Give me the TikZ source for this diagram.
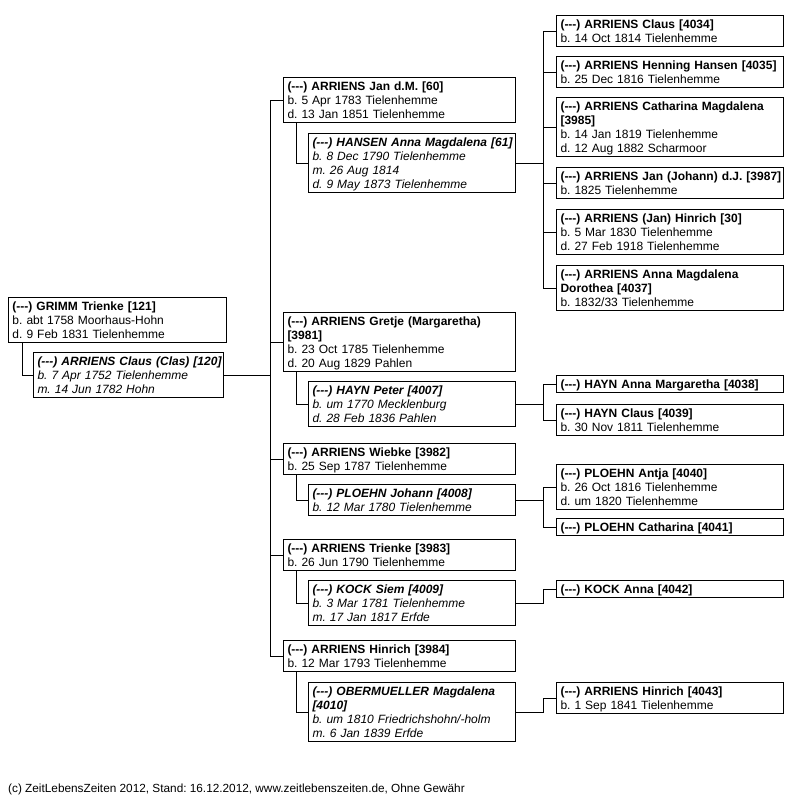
\documentclass[tikz,border=0pt]{standalone}
\usepackage{fontspec}
\setmainfont{Liberation Sans}[Ligatures=ResetAll]
\newcommand{\Ln}[1]{\mbox{#1}}
\newcommand{\Dsh}{(-{}-{}-)}
\newcommand{\TopStrut}{\rule[-2.6pt]{0pt}{14pt}}
\frenchspacing
\begin{document}
\begin{tikzpicture}[x=1pt,y=-1pt,
  box/.style={draw, line width=1pt, anchor=north west, inner xsep=4pt, inner ysep=1.5pt,
    align=left, font=\fontsize{12}{14}\selectfont\frenchspacing,
    execute at begin node=\TopStrut, execute at end node=\TopStrut},
  wA/.style={box, text width=224pt},
  wS/.style={box, text width=199pt, font=\fontsize{12}{14}\selectfont\frenchspacing\itshape},
  wG/.style={box, text width=219pt},
  conn/.style={line width=1pt, line cap=rect}
]
\useasboundingbox (0,0) rectangle (788,798);
\fill[white] (0,0) rectangle (788,798);

% level 1
\node[box, text width=210pt] (grimm) at (8,297) {\Ln{\textbf{\Dsh{} GRIMM Trienke [121]}}\\b. abt 1758 Moorhaus-Hohn\\d. 9 Feb 1831 Tielenhemme};
\node[box, text width=182pt, font=\fontsize{12}{14}\selectfont\frenchspacing\itshape] (claus) at (33,352) {\Ln{\textbf{\Dsh{} ARRIENS Claus (Clas) [120]}}\\b. 7 Apr 1752 Tielenhemme\\m. 14 Jun 1782 Hohn};

% level 2
\node[wA] (jan) at (283,77) {\Ln{\textbf{\Dsh{} ARRIENS Jan d.M. [60]}}\\b. 5 Apr 1783 Tielenhemme\\d. 13 Jan 1851 Tielenhemme};
\node[wS] (hansen) at (308,133) {\Ln{\textbf{\Dsh{} HANSEN Anna Magdalena [61]}}\\b. 8 Dec 1790 Tielenhemme\\m. 26 Aug 1814\\d. 9 May 1873 Tielenhemme};
\node[wA] (gretje) at (283,312) {\Ln{\textbf{\Dsh{} ARRIENS Gretje (Margaretha)}}\\\textbf{[3981]}\\b. 23 Oct 1785 Tielenhemme\\d. 20 Aug 1829 Pahlen};
\node[wS] (hayn) at (308,381) {\Ln{\textbf{\Dsh{} HAYN Peter [4007]}}\\b. um 1770 Mecklenburg\\d. 28 Feb 1836 Pahlen};
\node[wA] (wiebke) at (283,443) {\Ln{\textbf{\Dsh{} ARRIENS Wiebke [3982]}}\\b. 25 Sep 1787 Tielenhemme};
\node[wS] (ploehn) at (308,484) {\Ln{\textbf{\Dsh{} PLOEHN Johann [4008]}}\\b. 12 Mar 1780 Tielenhemme};
\node[wA] (trienke) at (283,539) {\Ln{\textbf{\Dsh{} ARRIENS Trienke [3983]}}\\b. 26 Jun 1790 Tielenhemme};
\node[wS] (kock) at (308,580) {\Ln{\textbf{\Dsh{} KOCK Siem [4009]}}\\b. 3 Mar 1781 Tielenhemme\\m. 17 Jan 1817 Erfde};
\node[wA] (hinrich) at (283,640) {\Ln{\textbf{\Dsh{} ARRIENS Hinrich [3984]}}\\b. 12 Mar 1793 Tielenhemme};
\node[wS] (ober) at (308,682) {\Ln{\textbf{\Dsh{} OBERMUELLER Magdalena}}\\\textbf{[4010]}\\\Ln{b. um 1810 Friedrichshohn/-holm}\\m. 6 Jan 1839 Erfde};

% level 3
\node[wG] (g4034) at (556,15) {\Ln{\textbf{\Dsh{} ARRIENS Claus [4034]}}\\b. 14 Oct 1814 Tielenhemme};
\node[wG] (g4035) at (556,56) {\Ln{\textbf{\Dsh{} ARRIENS Henning Hansen [4035]}}\\b. 25 Dec 1816 Tielenhemme};
\node[wG] (g3985) at (556,97) {\Ln{\textbf{\Dsh{} ARRIENS Catharina Magdalena}}\\\textbf{[3985]}\\b. 14 Jan 1819 Tielenhemme\\d. 12 Aug 1882 Scharmoor};
\node[wG] (g3987) at (556,167) {\Ln{\textbf{\Dsh{} ARRIENS Jan (Johann) d.J. [3987]}}\\b. 1825 Tielenhemme};
\node[wG] (g30) at (556,209) {\Ln{\textbf{\Dsh{} ARRIENS (Jan) Hinrich [30]}}\\b. 5 Mar 1830 Tielenhemme\\d. 27 Feb 1918 Tielenhemme};
\node[wG] (g4037) at (556,265) {\Ln{\textbf{\Dsh{} ARRIENS Anna Magdalena}}\\\textbf{Dorothea [4037]}\\b. 1832/33 Tielenhemme};
\node[wG] (g4038) at (556,375) {\Ln{\textbf{\Dsh{} HAYN Anna Margaretha [4038]}}};
\node[wG] (g4039) at (556,404) {\Ln{\textbf{\Dsh{} HAYN Claus [4039]}}\\b. 30 Nov 1811 Tielenhemme};
\node[wG] (g4040) at (556,464) {\Ln{\textbf{\Dsh{} PLOEHN Antja [4040]}}\\b. 26 Oct 1816 Tielenhemme\\d. um 1820 Tielenhemme};
\node[wG] (g4041) at (556,518) {\Ln{\textbf{\Dsh{} PLOEHN Catharina [4041]}}};
\node[wG] (g4042) at (556,580) {\Ln{\textbf{\Dsh{} KOCK Anna [4042]}}};
\node[wG] (g4043) at (556,682) {\Ln{\textbf{\Dsh{} ARRIENS Hinrich [4043]}}\\b. 1 Sep 1841 Tielenhemme};

\node[anchor=west, inner sep=0pt, font=\fontsize{11.8}{14}\selectfont\frenchspacing] (foot) at (8,789) {(c) ZeitLebensZeiten 2012, Stand: 16.12.2012, www.zeitlebenszeiten.de, Ohne Gewähr};

% connectors
\coordinate (T) at (270,0);
\coordinate (G) at (543,0);
\draw[conn] ([xshift=14pt]grimm.south west) |- (claus.west);
\draw[conn] (claus.east) -- (claus.east -| T);
\draw[conn] (T |- jan.west) -- (T |- hinrich.west);
\foreach \c in {jan,gretje,wiebke,trienke,hinrich}
  \draw[conn] (T |- \c.west) -- (\c.west);
\foreach \p/\s in {jan/hansen,gretje/hayn,wiebke/ploehn,trienke/kock,hinrich/ober}
  \draw[conn] ([xshift=13pt]\p.south west) |- (\s.west);
\foreach \s in {hansen,hayn,ploehn,kock,ober}
  \draw[conn] (\s.east) -- (\s.east -| G);
\draw[conn] (G |- g4034.west) -- (G |- g4037.west);
\draw[conn] (G |- g4038.west) -- (G |- g4039.west);
\draw[conn] (G |- g4040.west) -- (G |- g4041.west);
\draw[conn] (G |- kock.east) -- (G |- g4042.west);
\draw[conn] (G |- ober.east) -- (G |- g4043.west);
\foreach \c in {g4034,g4035,g3985,g3987,g30,g4037,g4038,g4039,g4040,g4041,g4042,g4043}
  \draw[conn] (G |- \c.west) -- (\c.west);
\end{tikzpicture}
\end{document}
